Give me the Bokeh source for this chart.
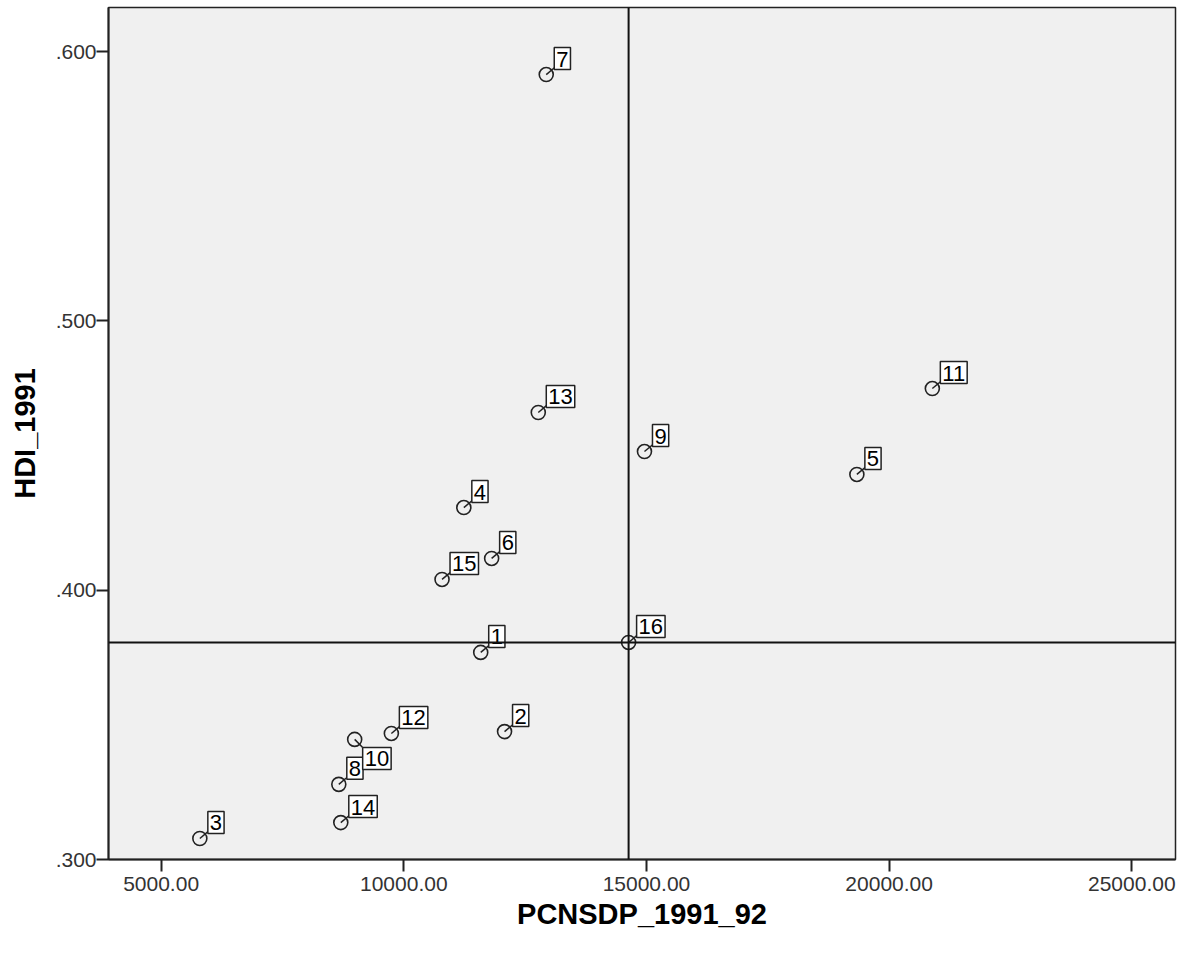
import numpy as np
from bokeh.plotting import figure
from bokeh.models import (ColumnDataSource, Span, FixedTicker,
                          NumeralTickFormatter, Range1d)
from bokeh.core.properties import value
from bokeh.embed import file_html
from bokeh.resources import INLINE

# ---- data ----
case_ids = ["1", "2", "3", "4", "5", "6", "7", "8", "9", "10", "11", "12", "13", "14", "15", "16"]
pcnsdp_1991_92 = [11585, 12076, 5798, 11237, 19335, 11810, 12935, 8661, 14959,
                  8988, 20890, 9744, 12771, 8702, 10788, 14632]
hdi_1991 = [0.3769, 0.3475, 0.3078, 0.4307, 0.4430, 0.4118, 0.5915, 0.3279, 0.4515,
            0.3446, 0.4749, 0.3468, 0.4660, 0.3137, 0.4040, 0.3806]
ref_case = "16"          # reference lines drawn through this case
below_labels = ["10"]    # labels placed below-right of their marker
x_ticks = [5000, 10000, 15000, 20000, 25000]
y_ticks = [0.300, 0.400, 0.500, 0.600]

FONT = "Liberation Sans"

p = figure(width=1177, height=937, output_backend="svg", toolbar_location=None,
           x_range=Range1d(3916, 25900), y_range=Range1d(0.300, 0.6164),
           min_border_left=108, min_border_right=2, min_border_top=7,
           min_border_bottom=78)

p.background_fill_color = "#f0f0f0"
p.border_fill_color = "white"
p.outline_line_color = "#222222"
p.outline_line_width = 1.5
p.xgrid.visible = False
p.ygrid.visible = False

for ax in (p.xaxis[0], p.yaxis[0]):
    ax.axis_line_color = "#222222"
    ax.axis_line_width = 2
    ax.major_tick_line_color = "#222222"
    ax.major_tick_line_width = 2
    ax.major_tick_out = 12
    ax.major_tick_in = 0
    ax.minor_tick_out = 0
    ax.minor_tick_in = 0
    ax.major_label_text_font = FONT
    ax.major_label_text_font_size = "21px"
    ax.major_label_text_color = "#333333"
    ax.axis_label_text_font = FONT
    ax.axis_label_text_font_size = "29px"
    ax.axis_label_text_font_style = "bold"
    ax.axis_label_text_color = "black"

p.xaxis.axis_label = "PCNSDP_1991_92"
p.yaxis.axis_label = "HDI_1991"
p.xaxis.ticker = FixedTicker(ticks=x_ticks)
p.yaxis.ticker = FixedTicker(ticks=y_ticks)
p.xaxis.formatter = NumeralTickFormatter(format="0.00")
p.yaxis.major_label_overrides = {v: f"{v:.3f}".lstrip("0") for v in y_ticks}
p.xaxis.major_label_standoff = 5
p.yaxis.major_label_standoff = 0
p.xaxis.axis_label_standoff = 4
p.yaxis.axis_label_standoff = 12

# reference lines through the reference case
ri = case_ids.index(ref_case)
p.add_layout(Span(location=pcnsdp_1991_92[ri], dimension="height",
                  line_color="#111111", line_width=2))
p.add_layout(Span(location=hdi_1991[ri], dimension="width",
                  line_color="#111111", line_width=2))

above = [i for i, c in enumerate(case_ids) if c not in below_labels]
below = [i for i, c in enumerate(case_ids) if c in below_labels]

def sub(idx):
    return ColumnDataSource(dict(x=[pcnsdp_1991_92[i] for i in idx],
                                 y=[hdi_1991[i] for i in idx],
                                 t=[case_ids[i] for i in idx]))

src_a = sub(above)
src_b = sub(below)

# leader lines
p.ray(x="x", y="y", length=11, length_units="screen", angle=np.deg2rad(40),
      line_color="#222222", line_width=1.5, source=src_a)
p.ray(x="x", y="y", length=11, length_units="screen", angle=np.deg2rad(-45),
      line_color="#222222", line_width=1.5, source=src_b)

# markers
for s in (src_a, src_b):
    p.scatter(x="x", y="y", marker="circle", size=14, fill_color=None,
              line_color="#222222", line_width=1.6, source=s)

common = dict(text_font=value(FONT), text_font_size="22px", text_color="black",
              background_fill_color="white", border_line_color="#222222",
              border_line_width=1.5,
              padding=dict(left=2, right=2, top=4, bottom=3))
p.text(x="x", y="y", text="t", source=src_a, x_offset=8, y_offset=-5,
       anchor="bottom_left", **common)
p.text(x="x", y="y", text="t", source=src_b, x_offset=8, y_offset=8,
       anchor="top_left", **common)

open("out.html", "w").write(file_html(p, INLINE))
